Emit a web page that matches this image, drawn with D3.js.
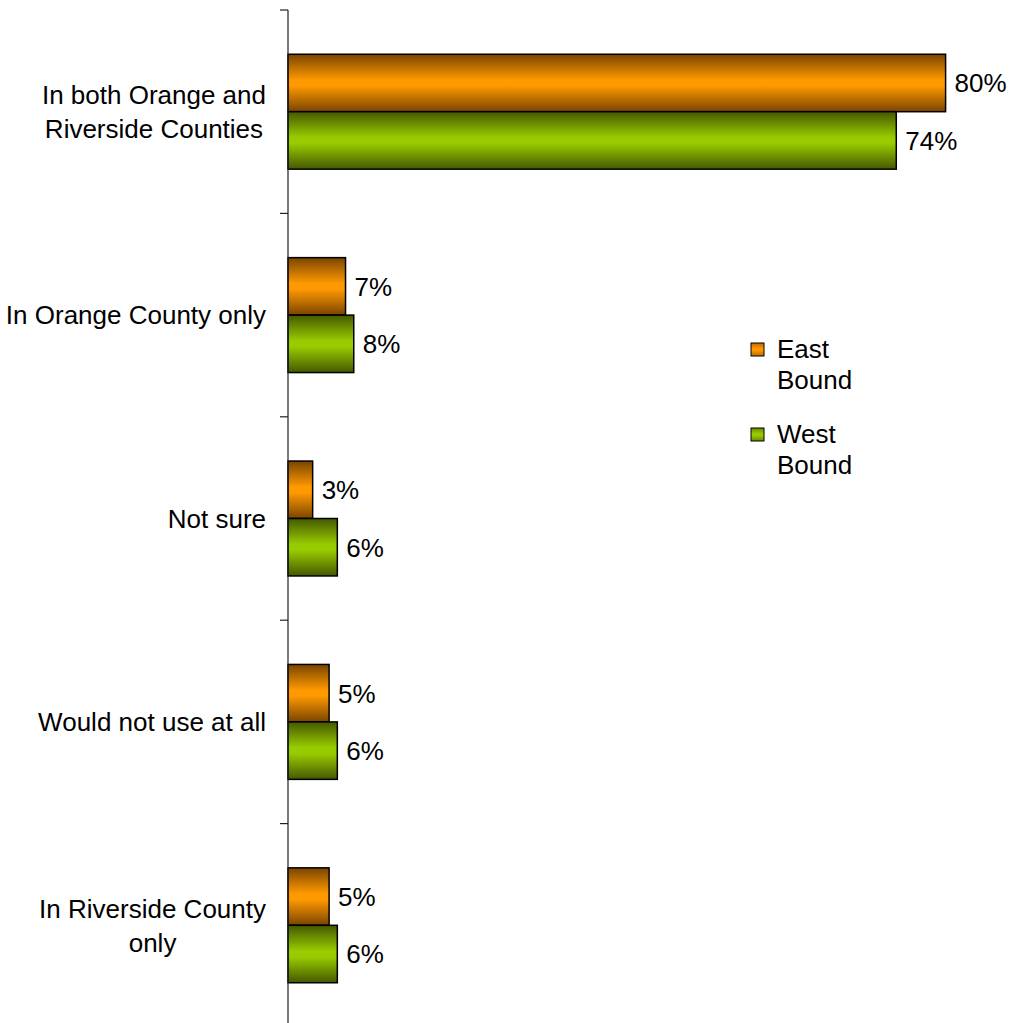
<!DOCTYPE html>
<html>
<head>
<meta charset="utf-8">
<script src="https://cdn.jsdelivr.net/npm/d3@7"></script>
<style>
  html, body { margin: 0; padding: 0; background: #fff; }
  svg { display: block; }
  text { font-family: "Liberation Sans", Arial, sans-serif; fill: #000; }
</style>
</head>
<body>
<svg id="chart" width="1011" height="1023"></svg>
<script>
// Where respondents would use the toll lanes, by direction of travel
const categories = [
  ["In both Orange and", "Riverside Counties"],
  ["In Orange County only"],
  ["Not sure"],
  ["Would not use at all"],
  ["In Riverside County", "only"]
];
const eastBound = [80, 7, 3, 5, 5];
const westBound = [74, 8, 6, 6, 6];
const seriesNames = ["East", "West"];
const seriesSub = ["Bound", "Bound"];

const svg = d3.select("#chart");
const W = 1011, H = 1023;
const axisX = 288;
const FS = 26;

const y = d3.scaleBand()
  .domain(d3.range(categories.length))
  .range([10, 1027])
  .paddingInner(0.435)
  .paddingOuter(0.2175);

const x = d3.scaleLinear().domain([0, 100]).range([axisX, axisX + 822]);

const sub = d3.scaleBand().domain([0, 1]).range([0, y.bandwidth()]);

// Vertical shaded fills: dark edges, bright centre
const defs = svg.append("defs");
function shade(id, dark, bright) {
  const g = defs.append("linearGradient").attr("id", id)
    .attr("x1", 0).attr("y1", 0).attr("x2", 0).attr("y2", 1);
  g.append("stop").attr("offset", "0%").attr("stop-color", dark);
  g.append("stop").attr("offset", "45%").attr("stop-color", bright);
  g.append("stop").attr("offset", "55%").attr("stop-color", bright);
  g.append("stop").attr("offset", "100%").attr("stop-color", dark);
}
shade("gEast", "#7a4400", "#ff9900");
shade("gWest", "#445800", "#99cc00");
shade("lEast", "#c06a00", "#ff9900");
shade("lWest", "#6a8a00", "#99cc00");
const fills = ["url(#gEast)", "url(#gWest)"];
const legendFills = ["url(#lEast)", "url(#lWest)"];

const series = [eastBound, westBound];

// Bars
series.forEach((vals, s) => {
  svg.append("g").selectAll("rect")
    .data(vals)
    .join("rect")
    .attr("x", x(0))
    .attr("y", (d, i) => y(i) + sub(s))
    .attr("width", d => x(d) - x(0))
    .attr("height", sub.bandwidth())
    .attr("fill", fills[s])
    .attr("stroke", "#000")
    .attr("stroke-width", 1.5);

  svg.append("g").selectAll("text")
    .data(vals)
    .join("text")
    .attr("x", d => x(d) + 9)
    .attr("y", (d, i) => y(i) + sub(s) + sub.bandwidth() / 2)
    .attr("dy", "0.36em")
    .attr("font-size", FS)
    .text(d => d + "%");
});

// Category axis
const axisG = svg.append("g");
axisG.append("line")
  .attr("x1", axisX).attr("x2", axisX)
  .attr("y1", 10).attr("y2", H)
  .attr("stroke", "#222").attr("stroke-width", 1.2);
const step = y.step();
const tickYs = d3.range(categories.length + 1).map(i => y(0) - y.paddingInner() * step / 2 + i * step);
axisG.selectAll("line.tick")
  .data(tickYs)
  .join("line")
  .attr("class", "tick")
  .attr("x1", axisX - 8).attr("x2", axisX)
  .attr("y1", d => d).attr("y2", d => d)
  .attr("stroke", "#222").attr("stroke-width", 1.2);

// Category labels: block right-aligned to the axis, lines centred within the block
const lineH = 34;
categories.forEach((lines, i) => {
  const cy = y(i) + y.bandwidth() / 2;
  const g = svg.append("g");
  const ts = lines.map((t, k) => g.append("text")
    .attr("font-size", FS)
    .attr("text-anchor", "middle")
    .attr("y", cy + (k - (lines.length - 1) / 2) * lineH)
    .attr("dy", "0.36em")
    .text(t));
  const wMax = d3.max(ts, t => t.node().getComputedTextLength());
  const cx = 266 - wMax / 2;
  ts.forEach(t => t.attr("x", cx));
});

// Legend
const legend = svg.append("g");
const legY = [349, 434];
seriesNames.forEach((n, s) => {
  legend.append("rect")
    .attr("x", 751).attr("y", legY[s] - 6)
    .attr("width", 13).attr("height", 13)
    .attr("fill", legendFills[s])
    .attr("stroke", "#000").attr("stroke-width", 1);
  legend.append("text")
    .attr("x", 777).attr("y", legY[s]).attr("dy", "0.36em")
    .attr("font-size", FS).text(n);
  legend.append("text")
    .attr("x", 777).attr("y", legY[s] + 31).attr("dy", "0.36em")
    .attr("font-size", FS).text(seriesSub[s]);
});
</script>
</body>
</html>
